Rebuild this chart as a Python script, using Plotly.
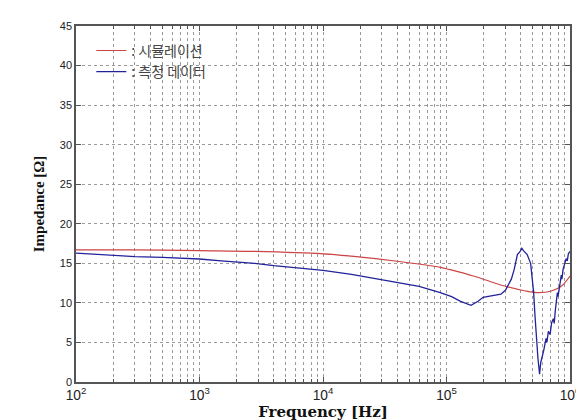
import plotly.graph_objects as go

# Simulation (red)
sim_freq = [100, 300, 1000, 2800, 10000, 17000, 43000, 89000, 107000, 165000,
            300000, 437000, 557000, 708000, 850000, 1000000]
sim_imp = [16.7, 16.7, 16.6, 16.5, 16.2, 15.9, 15.2, 14.5, 14.2, 13.4,
           12.1, 11.5, 11.3, 11.5, 12.1, 13.4]

# Measurement (blue)
meas_freq = [100, 130, 200, 300, 500, 700, 1000, 1500, 2000, 2800, 4000, 7000,
             10000, 17000, 30000, 43000, 60000, 89000, 110000, 130000, 158000,
             180000, 198000, 230000, 276000, 300000, 312000, 335000, 353000,
             375000, 395000, 407000, 420000, 440000, 450000, 480000, 500000,
             508000, 520000, 531000, 550000, 567000, 580000, 611000, 640000,
             650000, 668000, 690000, 710000, 733000, 745000, 760000, 777000,
             790000, 800000, 828000, 850000, 860000, 880000, 908000, 930000,
             950000, 970000, 1000000]
meas_imp = [16.3, 16.2, 16.0, 15.85, 15.75, 15.65, 15.55, 15.3, 15.15, 15.0,
            14.7, 14.35, 14.1, 13.6, 12.9, 12.55, 12.1, 11.3, 10.8, 10.2, 9.7,
            10.2, 10.7, 10.9, 11.1, 11.6, 12.1, 13.0, 14.2, 16.1, 16.5, 16.9,
            16.6, 16.3, 16.1, 15.0, 12.5, 11.3, 8.5, 5.95, 3.0, 1.0, 2.5, 3.9,
            5.5, 5.0, 6.4, 6.0, 7.5, 8.0, 7.4, 9.0, 10.1, 11.3, 10.8, 12.6,
            13.5, 13.0, 14.3, 15.0, 15.6, 15.3, 16.2, 16.5]

y_ticks = [0, 5, 10, 15, 20, 25, 30, 35, 40, 45]

fig = go.Figure()
fig.add_trace(go.Scatter(x=sim_freq, y=sim_imp, mode="lines", name=": 시뮬레이션",
                         line=dict(color="#cc4444", width=1.2, shape="spline")))
fig.add_trace(go.Scatter(x=meas_freq, y=meas_imp, mode="lines", name=": 측정 데이터",
                         line=dict(color="#22229a", width=1.3)))

grid = dict(showgrid=True, gridcolor="#9a9a9a", griddash="dot", gridwidth=1)
fig.update_layout(
    width=584, height=420,
    margin=dict(l=68, r=12, t=15, b=42),
    paper_bgcolor="white", plot_bgcolor="white",
    font=dict(family="Arial, Liberation Sans, sans-serif", size=11, color="#222222"),
    showlegend=True,
    legend=dict(x=0.031, y=0.975, xanchor="left", yanchor="top",
                bgcolor="rgba(0,0,0,0)", borderwidth=0,
                font=dict(family="Noto Sans CJK KR", size=14, color="#444444"),
                tracegroupgap=0, itemwidth=30),
    xaxis=dict(type="log", range=[2, 6], dtick=1, exponentformat="power",
               showline=True, linecolor="#555555", linewidth=1.5, mirror="ticks",
               ticks="inside", ticklen=5, tickcolor="#555555",
               minor=dict(dtick="D1", ticks="inside", ticklen=3, tickcolor="#555555",
                          showgrid=True, gridcolor="#9a9a9a", griddash="dot", gridwidth=1),
               title=dict(text="<b>Frequency [Hz]</b>", standoff=3,
                          font=dict(family="DejaVu Serif, Liberation Serif, serif",
                                    size=15, color="#111111")),
               zeroline=False, **grid),
    yaxis=dict(range=[0, 45], tickvals=y_ticks,
               showline=True, linecolor="#555555", linewidth=1.5, mirror="ticks",
               ticks="inside", ticklen=5, tickcolor="#555555",
               title=dict(text="<b>Impedance [Ω]</b>", standoff=12,
                          font=dict(family="Liberation Serif, Times New Roman, serif",
                                    size=15, color="#111111")),
               zeroline=False, **grid),
)
fig.write_html("out.html")
